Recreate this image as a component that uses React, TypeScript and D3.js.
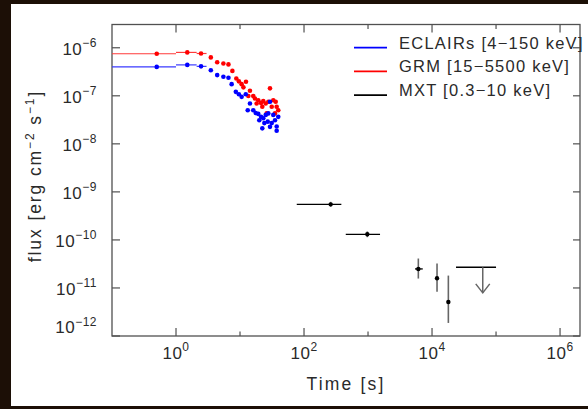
import React from "react";
import * as d3 from "d3";

// ---------- data ----------
const X_DOMAIN = [0.1, 2.05e6];
const Y_DOMAIN = [1e-12, 3.05e-6];
const X_TICK_EXPS = [0, 1, 2, 3, 4, 5, 6];
const X_LABEL_EXPS = [0, 2, 4, 6];
const Y_TICK_EXPS = [-6, -7, -8, -9, -10, -11, -12];

// binned points (first three bins of the gamma-ray light curves)
const BIN_LO = [0.1, 1, 2.1];
const BIN_HI = [1, 2.1, 3];

const GRM_T = [0.5, 1.5, 2.46, 3.5, 4.4, 5.5, 6.6, 7.6, 8.75, 9.6, 10.6, 12.4, 11.3, 14.3, 13.5, 16.1, 17.1, 19.3, 18.2, 21.3, 23.1, 25.2, 29.4, 27.7, 33.1, 36.1, 31.3, 37.4, 26.1, 39.6, 35.2, 22.3];
const GRM_F = [7.5e-7, 8.0e-7, 7.6e-7, 6.3e-7, 5.0e-7, 4.7e-7, 4.5e-7, 3.3e-7, 2.3e-7, 2.0e-7, 1.75e-7, 1.96e-7, 1.5e-7, 1.27e-7, 9.9e-8, 9.9e-8, 8.8e-8, 8.1e-8, 6.9e-8, 7.1e-8, 7.8e-8, 6.9e-8, 1.43e-7, 7.5e-8, 8.1e-8, 7.5e-8, 5.9e-8, 5.9e-8, 4.3e-8, 5.0e-8, 4.3e-8, 5.9e-8];

const ECL_T = [0.5, 1.5, 2.46, 3.5, 4.4, 5.5, 6.6, 7.4, 8.6, 9.6, 10.6, 12.3, 14.3, 13.2, 16.1, 17.6, 19.3, 21.3, 20, 23.1, 25.2, 22.3, 27.7, 27.1, 29.4, 33.1, 35.2, 37.4, 37.4, 29.4, 31.3, 24, 39.6];
const ECL_F = [4.0e-7, 4.4e-7, 4.1e-7, 3.4e-7, 2.7e-7, 2.5e-7, 2.37e-7, 1.75e-7, 1.21e-7, 1.08e-7, 9.5e-8, 1.08e-7, 6.9e-8, 5.0e-8, 5.0e-8, 4.4e-8, 4.2e-8, 3.65e-8, 3.1e-8, 3.4e-8, 4.0e-8, 2.1e-8, 4.3e-8, 2.9e-8, 7.5e-8, 4.0e-8, 3.1e-8, 2.3e-8, 1.87e-8, 2.26e-8, 2.7e-8, 2.7e-8, 3.65e-8];

const MXT_T = [261, 975, 6110, 11970, 17990];
const MXT_F = [5.5e-10, 1.31e-10, 2.49e-11, 1.59e-11, 5.1e-12];
const MXT_T_LO = [77, 449, 5420, 11970, 17990];
const MXT_T_HI = [383, 1540, 7160, 11970, 17990];
const MXT_F_LO = [4.9e-10, 1.14e-10, 1.57e-11, 8.3e-12, 1.87e-12];
const MXT_F_HI = [6.2e-10, 1.5e-10, 4.1e-11, 3.22e-11, 1.81e-11];

const UL_T_LO = 23700;
const UL_T_HI = 1e5;
const UL_T = 62000;
const UL_F = 2.7e-11;
const UL_F_TO = 7.9e-12;

const LEGEND_LABELS = ["ECLAIRs [4\u2212150 keV]", "GRM [15\u22125500 keV]", "MXT [0.3\u221210 keV]"];
const LEGEND_COLORS = ["#0000ff", "#ff0000", "#000000"];

// ---------- layout ----------
const W = 588;
const H = 409;
const PL = 112;
const PR = 580;
const PT = 24.5;
const PB = 336;
const FONT = "'Liberation Sans', Arial, sans-serif";
const TXT = "#2a2a2a";
const AX = "#505050";

export default function App() {
  const x = d3.scaleLog().domain(X_DOMAIN).range([PL, PR]);
  const y = d3.scaleLog().domain(Y_DOMAIN).range([PB, PT]);

  const dots = (ts: number[], fs: number[], color: string) =>
    ts.map((t, i) => <circle key={color + i} cx={x(t)} cy={y(fs[i])} r={2.3} fill={color} />);

  const bins = (fs: number[], color: string) =>
    BIN_LO.map((lo, i) => (
      <line key={color + "b" + i} x1={x(lo)} x2={x(BIN_HI[i])} y1={y(fs[i])} y2={y(fs[i])} stroke={color} strokeWidth={1.2} />
    ));

  const sup = (base: string, s: string) => (
    <>
      <tspan>{base}</tspan>
      <tspan dy={-7.5} fontSize={12}>{s}</tspan>
    </>
  );

  return (
    <svg width={W} height={H} style={{ position: "absolute", left: 0, top: 0 }} fontFamily={FONT}>
      <rect x={0} y={0} width={W} height={H} fill="#1c0f06" />
      <rect x={11} y={4} width={W - 11} height={402} fill="#ffffff" />

      {/* frame */}
      <rect x={PL} y={PT} width={PR - PL} height={PB - PT} fill="none" stroke={AX} strokeWidth={1.3} />

      {/* x ticks */}
      {X_TICK_EXPS.map((e) => {
        const major = e % 2 === 0;
        const xx = x(Math.pow(10, e));
        return (
          <g key={"xt" + e}>
            <line x1={xx} x2={xx} y1={PB} y2={PB - (major ? 8 : 4.5)} stroke={AX} strokeWidth={1.2} />
            <line x1={xx} x2={xx} y1={PT} y2={PT + (major ? 8 : 4.5)} stroke={AX} strokeWidth={1.2} />
          </g>
        );
      })}
      {X_LABEL_EXPS.map((e) => (
        <text key={"xl" + e} x={x(Math.pow(10, e))} y={358.5} textAnchor="middle" fontSize={17} fill={TXT} letterSpacing={0.5}>
          {sup("10", String(e))}
        </text>
      ))}

      {/* y ticks */}
      {Y_TICK_EXPS.map((e) => {
        const yy = y(Math.pow(10, e));
        return (
          <g key={"yt" + e}>
            <line x1={PL} x2={PL + 8} y1={yy} y2={yy} stroke={AX} strokeWidth={1.2} />
            <line x1={PR} x2={PR - 7} y1={yy} y2={yy} stroke={AX} strokeWidth={1.2} />
            <text x={97} y={Math.min(yy + 7, PB - 3)} textAnchor="end" fontSize={17} fill={TXT} letterSpacing={0.5}>
              {sup("10", "\u2212" + String(-e))}
            </text>
          </g>
        );
      })}

      {/* axis titles */}
      <text x={(PL + PR) / 2} y={389.5} textAnchor="middle" fontSize={17.5} fill={TXT} letterSpacing={2.2}>
        Time [s]
      </text>
      <text transform={`translate(41, 176) rotate(-90)`} textAnchor="middle" fontSize={17.5} fill={TXT} letterSpacing={1.9}>
        <tspan>flux [erg cm</tspan>
        <tspan dy={-7.5} fontSize={12}>{"\u22122"}</tspan>
        <tspan dy={7.5}> s</tspan>
        <tspan dy={-7.5} fontSize={12}>{"\u22121"}</tspan>
        <tspan dy={7.5}>]</tspan>
      </text>

      {/* gamma-ray light curves */}
      {bins(ECL_F, "#3a3aff")}
      {bins(GRM_F, "#ff3a3a")}
      {dots(GRM_T, GRM_F, "#ff0000")}
      {dots(ECL_T, ECL_F, "#0000ff")}

      {/* MXT */}
      {MXT_T.map((t, i) => (
        <g key={"m" + i}>
          {MXT_T_HI[i] > MXT_T_LO[i] && (
            <line x1={x(MXT_T_LO[i])} x2={x(MXT_T_HI[i])} y1={y(MXT_F[i])} y2={y(MXT_F[i])} stroke="#000" strokeWidth={1.3} />
          )}
          <line x1={x(t)} x2={x(t)} y1={y(MXT_F_LO[i])} y2={y(MXT_F_HI[i])} stroke="#666" strokeWidth={1.6} />
          <circle cx={x(t)} cy={y(MXT_F[i])} r={2.2} fill="#000" />
        </g>
      ))}
      <line x1={x(UL_T_LO)} x2={x(UL_T_HI)} y1={y(UL_F)} y2={y(UL_F)} stroke="#000" strokeWidth={1.3} />
      <line x1={x(UL_T)} x2={x(UL_T)} y1={y(UL_F)} y2={y(UL_F_TO)} stroke="#666" strokeWidth={1.5} />
      <polyline
        points={`${x(UL_T) - 7},${y(UL_F_TO) - 9} ${x(UL_T)},${y(UL_F_TO)} ${x(UL_T) + 7},${y(UL_F_TO) - 9}`}
        fill="none"
        stroke="#666"
        strokeWidth={1.5}
      />

      {/* legend */}
      {LEGEND_LABELS.map((lab, i) => {
        const ly = 47.7 + i * 23.7;
        return (
          <g key={"lg" + i}>
            <line x1={354} x2={387} y1={ly} y2={ly} stroke={LEGEND_COLORS[i]} strokeWidth={1.8} />
            <text x={399} y={ly + 0.8} fontSize={16.5} fill={TXT} letterSpacing={1.25}>
              {lab}
            </text>
          </g>
        );
      })}
    </svg>
  );
}
